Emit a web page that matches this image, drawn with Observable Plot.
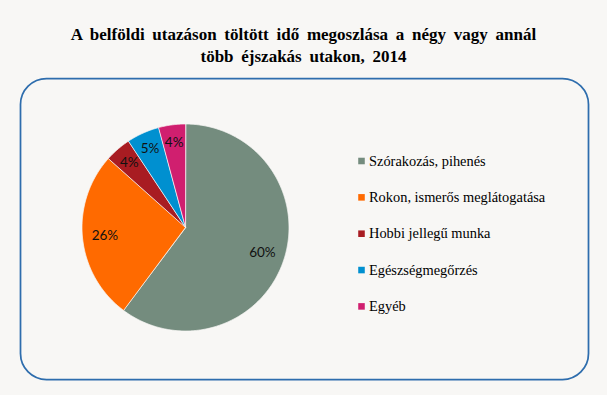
<!DOCTYPE html>
<html><head><meta charset="utf-8">
<script src="https://cdn.jsdelivr.net/npm/d3@7"></script>
<script src="https://cdn.jsdelivr.net/npm/@observablehq/plot@0.6"></script>
<style>
body{margin:0;background:#F8F7F5;}
#wrap{position:relative;width:607px;height:395px;overflow:hidden;}
#chart{position:absolute;top:0;left:0;}
#title{position:absolute;top:23.7px;left:0;width:607px;text-align:center;font-family:"Liberation Serif",serif;font-weight:bold;font-size:17px;line-height:22.6px;word-spacing:3.5px;color:#000;}
</style></head>
<body>
<div id="wrap"><div id="chart"></div>
<div id="title">A belföldi utazáson töltött idő megoszlása a négy vagy annál<br>több éjszakás utakon, 2014</div></div>
<script>
const categories = ["Szórakozás, pihenés","Rokon, ismerős meglátogatása","Hobbi jellegű munka","Egészségmegőrzés","Egyéb"];
const values = [60.2, 26.4, 4.1, 5.1, 4.2];
const labels = ["60%","26%","4%","5%","4%"];
const colors = ["#748C7E","#FF6A00","#A81C22","#0090D0","#D01F6F"];

const cx = 185, cy = 227, R = 103.5;
const pie = d3.pie().sort(null).value(d => d)(values);
const features = pie.map((p, i) => {
  const n = Math.max(4, Math.ceil((p.endAngle - p.startAngle) / 0.01));
  const ring = [[cx, cy]];
  for (let k = 0; k <= n; k++) {
    const a = p.startAngle + (p.endAngle - p.startAngle) * k / n;
    ring.push([cx + R * Math.sin(a), cy - R * Math.cos(a)]);
  }
  ring.push([cx, cy]);
  return {type: "Feature", properties: {category: categories[i]}, geometry: {type: "Polygon", coordinates: [ring]}};
});
const labelData = pie.map((p, i) => {
  const a = (p.startAngle + p.endAngle) / 2;
  const rr = values[i] < 10 ? 86 : 81;
  return {x: cx + rr * Math.sin(a), y: cy - rr * Math.cos(a), text: labels[i]};
});
const legendData = categories.map((c, i) => ({category: c, x: 361, tx: 368.5, y: 160.5 + i * 36.35}));

const chart = Plot.plot({
  width: 607, height: 395, margin: 0,
  style: {background: "transparent"},
  projection: {type: "identity"},
  color: {domain: categories, range: colors},
  marks: [
    Plot.frame({rx: 26, stroke: "#2E6DAD", strokeWidth: 1.75, insetLeft: 20, insetTop: 78, insetRight: 19, insetBottom: 16}),
    Plot.geo(features, {fill: d => d.properties.category, stroke: "#F8F7F5", strokeWidth: 0.75}),
    Plot.text(labelData, {x: "x", y: "y", text: "text", fill: "#111"}),
    Plot.dot(legendData, {x: "x", y: "y", symbol: "square", r: 3.7, fill: "category", stroke: null}),
    Plot.text(legendData, {x: "tx", y: "y", text: "category", textAnchor: "start", fill: "#000"})
  ]
});
chart.querySelectorAll("text").forEach(t => {
  const s = t.textContent;
  if (categories.includes(s)) {
    t.style.fontFamily = '"Liberation Serif", serif';
    t.style.fontSize = "14.4px";
  } else if (labels.includes(s)) {
    t.style.fontFamily = 'Lato, sans-serif';
    t.style.fontSize = "13.5px";
  }
});
document.getElementById("chart").appendChild(chart);
</script>
</body></html>
